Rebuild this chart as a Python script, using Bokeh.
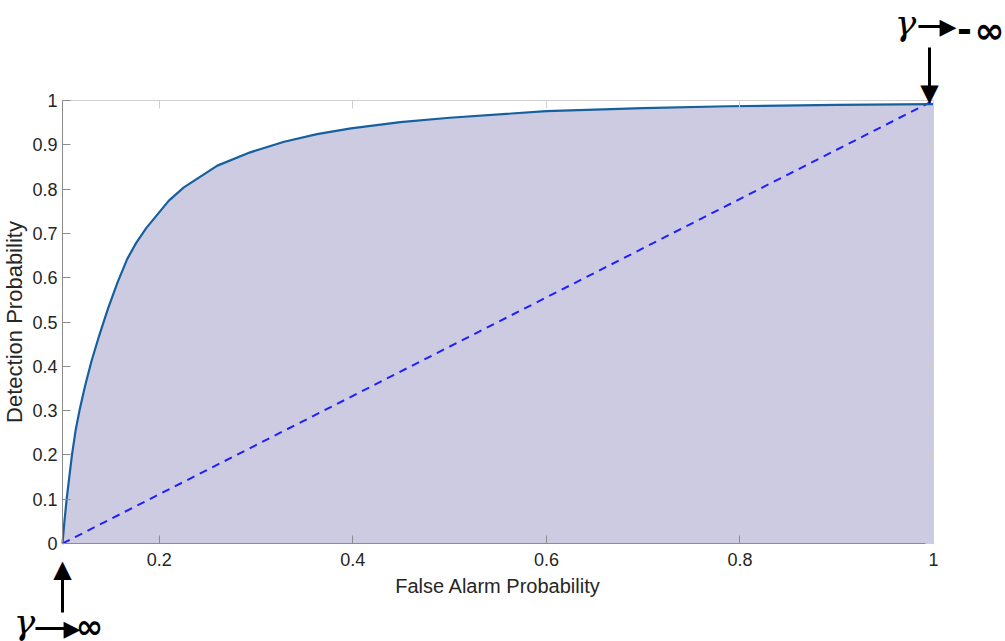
from bokeh.plotting import figure
from bokeh.models import LinearAxis, FixedTicker, Range1d, Label, Arrow
from bokeh.embed import file_html
from bokeh.resources import INLINE

# ---- data ----
false_alarm = [0.1000, 0.1020, 0.1043, 0.1070, 0.1098, 0.1135, 0.1180, 0.1235,
               0.1300, 0.1380, 0.1470, 0.1570, 0.1668, 0.1760, 0.1865, 0.2099,
               0.2254, 0.2600, 0.2940, 0.3290, 0.3630, 0.3980, 0.4490, 0.5000,
               0.6000, 0.7000, 0.7880, 0.9000, 1.0000]
detection = [0.000, 0.050, 0.100, 0.150, 0.200, 0.255, 0.305, 0.357,
             0.412, 0.470, 0.530, 0.590, 0.642, 0.678, 0.712, 0.774,
             0.804, 0.853, 0.883, 0.907, 0.924, 0.937, 0.951, 0.961,
             0.976, 0.983, 0.987, 0.990, 0.992]
chance_x = [0.1, 1.0]
chance_y = [0.0, 1.0]

x_ticks = [0.2, 0.4, 0.6, 0.8, 1.0]
x_tick_labels = ["0.2", "0.4", "0.6", "0.8", "1"]
y_ticks = [0.0, 0.1, 0.2, 0.3, 0.4, 0.5, 0.6, 0.7, 0.8, 0.9, 1.0]
y_tick_labels = ["0", "0.1", "0.2", "0.3", "0.4", "0.5", "0.6", "0.7", "0.8", "0.9", "1"]

X_MIN, X_MAX = 0.1, 1.0
Y_MIN, Y_MAX = 0.0, 1.0

# ---- layout: plot box inside the canvas (pixels) ----
W, H = 1005, 641
L, R, T, B = 62, 72, 100, 98
FW, FH = W - L - R, H - T - B
sx = (X_MAX - X_MIN) / FW
sy = (Y_MAX - Y_MIN) / FH
XR = Range1d(X_MIN - L * sx, X_MAX + R * sx)
YR = Range1d(Y_MIN - B * sy, Y_MAX + T * sy)

p = figure(width=W, height=H, output_backend="svg", toolbar_location=None,
           x_range=XR, y_range=YR, x_axis_type=None, y_axis_type=None,
           min_border=0, min_border_left=0, min_border_right=0,
           min_border_top=0, min_border_bottom=0,
           background_fill_color="white", border_fill_color="white",
           outline_line_color=None)
p.grid.visible = False

TICK_FONT = "Liberation Sans"
TXT = "#262626"
AX = "#8c8c8c"
AX_LIGHT = "#d0d0d0"

def make_axis(ticks, labels, loc, bounds, color):
    ax = LinearAxis(ticker=FixedTicker(ticks=ticks), fixed_location=loc,
                    bounds=bounds)
    ax.major_label_overrides = dict(zip(ticks, labels))
    ax.axis_line_color = color
    ax.major_tick_line_color = color
    ax.minor_tick_line_color = None
    ax.major_tick_in = 8
    ax.major_tick_out = 0
    ax.major_tick_line_width = 1
    ax.axis_line_width = 1
    ax.major_label_text_font = TICK_FONT
    ax.major_label_text_font_size = "18px"
    ax.major_label_text_color = TXT
    ax.axis_label_text_font = TICK_FONT
    ax.axis_label_text_font_style = "normal"
    ax.axis_label_text_color = TXT
    return ax

# top and right box edges (ticks only)
top = make_axis(x_ticks, [""] * len(x_ticks), Y_MAX, (X_MIN, X_MAX), AX_LIGHT)
top.major_label_standoff = 0
p.add_layout(top, "above")
right = make_axis(y_ticks, [""] * len(y_ticks), X_MAX, (Y_MIN, Y_MAX), AX_LIGHT)
right.major_label_standoff = 0
p.add_layout(right, "right")

# ---- marks ----
p.varea(x=false_alarm, y1=[0.0] * len(false_alarm), y2=detection,
        fill_color="#cccbe2", fill_alpha=1.0)
p.line(chance_x, chance_y, line_color="#1f1fff", line_width=2,
       line_dash="8 6")
p.line(false_alarm, detection, line_color="#17609f", line_width=2.2,
       line_join="round")

# bottom and left axes
xa = make_axis(x_ticks, x_tick_labels, Y_MIN, (X_MIN, X_MAX), AX)
xa.major_label_standoff = 9
xa.axis_label = "False Alarm Probability"
xa.axis_label_text_font_size = "20px"
xa.axis_label_standoff = 6
p.add_layout(xa, "below")

ya = make_axis(y_ticks, y_tick_labels, X_MIN, (Y_MIN, Y_MAX), AX)
ya.major_label_standoff = 5
ya.axis_label = "Detection Probability"
ya.axis_label_text_font_size = "22px"
ya.axis_label_standoff = 2
p.add_layout(ya, "left")

# ---- annotations (placed in pixel positions converted to data units) ----
def px2x(px):
    return XR.start + px * sx

def py2y(py):
    return YR.end - py * sy

DY = 9  # rendered baseline sits this many px below the requested one

def label(px, py, text, font, size, style="normal", align="center"):
    p.add_layout(Label(x=px2x(px), y=py2y(py - DY), text=text,
                       text_font=font, text_font_size=size,
                       text_font_style=style, text_color="black",
                       text_align=align, text_baseline="alphabetic"))

def shaft(x0, y0, x1, y1):
    p.add_layout(Arrow(end=None, start=None,
                       x_start=px2x(x0), y_start=py2y(y0),
                       x_end=px2x(x1), y_end=py2y(y1),
                       line_color="black", line_width=3))

# bottom-left: gamma -> infinity
label(24, 630, "γ", "DejaVu Serif", "36px", "italic")
label(89, 635, "∞", "DejaVu Sans", "33px", "bold")
shaft(62, 612, 62, 572)
label(62, 577, "▲", "DejaVu Sans", "24px")
shaft(35, 628, 66, 628)
label(80, 637, "▶", "DejaVu Sans", "22px", align="right")

# top-right: gamma -> -infinity
label(905, 31, "γ", "DejaVu Serif", "36px", "italic")
label(964, 37, "-", "DejaVu Sans", "36px", "bold")
label(989, 39, "∞", "DejaVu Sans", "36px", "bold")
shaft(929, 47, 929, 86)
label(929, 101, "▼", "DejaVu Sans", "24px")
shaft(918, 26, 942, 26)
label(956, 35, "▶", "DejaVu Sans", "22px", align="right")

open("out.html", "w").write(file_html(p, INLINE))
